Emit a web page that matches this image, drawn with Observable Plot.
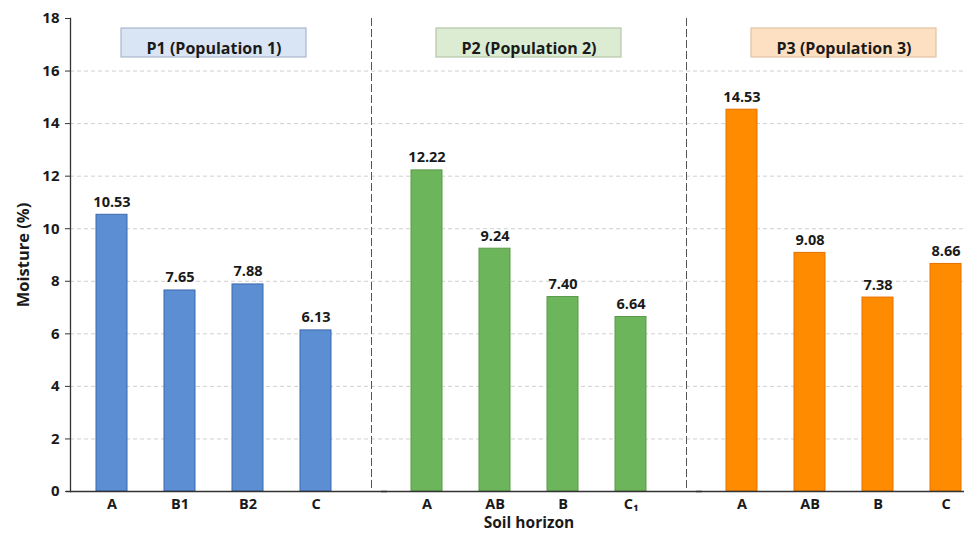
<!DOCTYPE html>
<html>
<head>
<meta charset="utf-8">
<script src="https://cdn.jsdelivr.net/npm/d3@7"></script>
<script src="https://cdn.jsdelivr.net/npm/@observablehq/plot@0.6"></script>
<style>
  html, body { margin: 0; padding: 0; background: #fff; overflow: hidden; }
  #chart svg { display: block; }
</style>
</head>
<body>
<div id="chart"></div>
<script>
// ---- data ----
const groups = ["P1", "P2", "P3"];
const groupLabels = ["P1 (Population 1)", "P2 (Population 2)", "P3 (Population 3)"];
const horizonsP1 = ["A", "B1", "B2", "C"];
const horizonsP2 = ["A", "AB", "B", "C\u2081"];
const horizonsP3 = ["A", "AB", "B", "C"];
const moistureP1 = [10.53, 7.65, 7.88, 6.13];
const moistureP2 = [12.22, 9.24, 7.40, 6.64];
const moistureP3 = [14.53, 9.08, 7.38, 8.66];
const yTicks = [0, 2, 4, 6, 8, 10, 12, 14, 16, 18];
const gridTicks = [2, 4, 6, 8, 10, 12, 14, 16];

// ---- styles ----
const barFill = ["#5b8ed3", "#6db55b", "#ff8c00"];
const barStroke = ["#3d68aa", "#5a9a49", "#e57000"];
const boxFill = ["#d9e4f4", "#dcecd3", "#fde0c2"];
const boxStroke = ["#a9b8cc", "#b4c7a8", "#e2c4a4"];

const horizons = [horizonsP1, horizonsP2, horizonsP3];
const values = [moistureP1, moistureP2, moistureP3];

const rows = groups.flatMap((g, gi) =>
  horizons[gi].map((h, i) => ({
    group: g, slot: i, horizon: h, value: values[gi][i],
    fill: barFill[gi], stroke: barStroke[gi]
  }))
);
const boxes = groups.map((g, gi) => ({
  group: g, label: groupLabels[gi], fill: boxFill[gi], stroke: boxStroke[gi]
}));
const xLabel = [{group: "P2", text: "Soil horizon"}];

const chart = Plot.plot({
  width: 964,
  height: 534,
  marginTop: 18,
  marginBottom: 43,
  marginLeft: 69,
  marginRight: -25,
  style: {fontFamily: "'Open Sans', 'DejaVu Sans', sans-serif", color: "#1a1a1a", background: "#fff"},
  fx: {domain: groups, paddingInner: 0.0886, paddingOuter: 0, axis: null},
  x: {domain: [0, 1, 2, 3], paddingInner: 0.549, paddingOuter: 0.37, axis: null},
  y: {domain: [0, 18], axis: null},
  color: {type: "identity"},
  marks: [
    Plot.gridY(gridTicks, {stroke: "#cfcfcf", strokeOpacity: 1, strokeDasharray: "4,3", insetRight: -28}),
    Plot.frame({anchor: "right", dx: 14, stroke: "#555", strokeDasharray: "7,4"}),
    Plot.rect(boxes, {fx: "group", fill: "fill", stroke: "stroke", strokeWidth: 1.2,
      insetLeft: 51, insetRight: 51, insetTop: 10, insetBottom: 434}),
    Plot.text(boxes, {fx: "group", text: "label", frameAnchor: "top", dy: 24.5,
      fontSize: 16, fontWeight: "bold", fill: "#1a1a1a"}),
    Plot.barY(rows, {fx: "group", x: "slot", y: "value", fill: "fill", stroke: "stroke", strokeWidth: 1}),
    Plot.text(rows, {fx: "group", x: "slot", y: "value", text: d => d.value.toFixed(2),
      lineAnchor: "bottom", dy: -8, fontSize: 14.5, fontWeight: "bold", fill: "#1a1a1a"}),
    Plot.text(rows, {fx: "group", x: "slot", y: () => 0, text: "horizon",
      lineAnchor: "middle", dy: 13, fontSize: 14.5, fontWeight: "bold", fill: "#1a1a1a"}),
    Plot.text(xLabel, {fx: "group", text: "text", frameAnchor: "bottom", dy: 36,
      fontSize: 15.5, fontWeight: "bold", fill: "#1a1a1a"}),
    Plot.ruleY([0], {stroke: "#333", strokeWidth: 1.6, insetLeft: -4, insetRight: -30}),
    Plot.frame({anchor: "left", facetAnchor: "left", stroke: "#333", strokeWidth: 1.3}),
    Plot.axisY({ticks: yTicks, tickSize: 5, tickPadding: 6, fontSize: 15, fontWeight: "bold",
      stroke: "#333", label: "Moisture (%)", labelAnchor: "center", labelArrow: false, labelOffset: 53}),
  ]
});
// enlarge the y-axis label
chart.querySelectorAll("text").forEach(t => {
  if (t.textContent === "Moisture (%)") { t.setAttribute("font-size", "16.5"); t.setAttribute("font-weight", "bold"); }
});
document.getElementById("chart").appendChild(chart);
</script>
</body>
</html>
